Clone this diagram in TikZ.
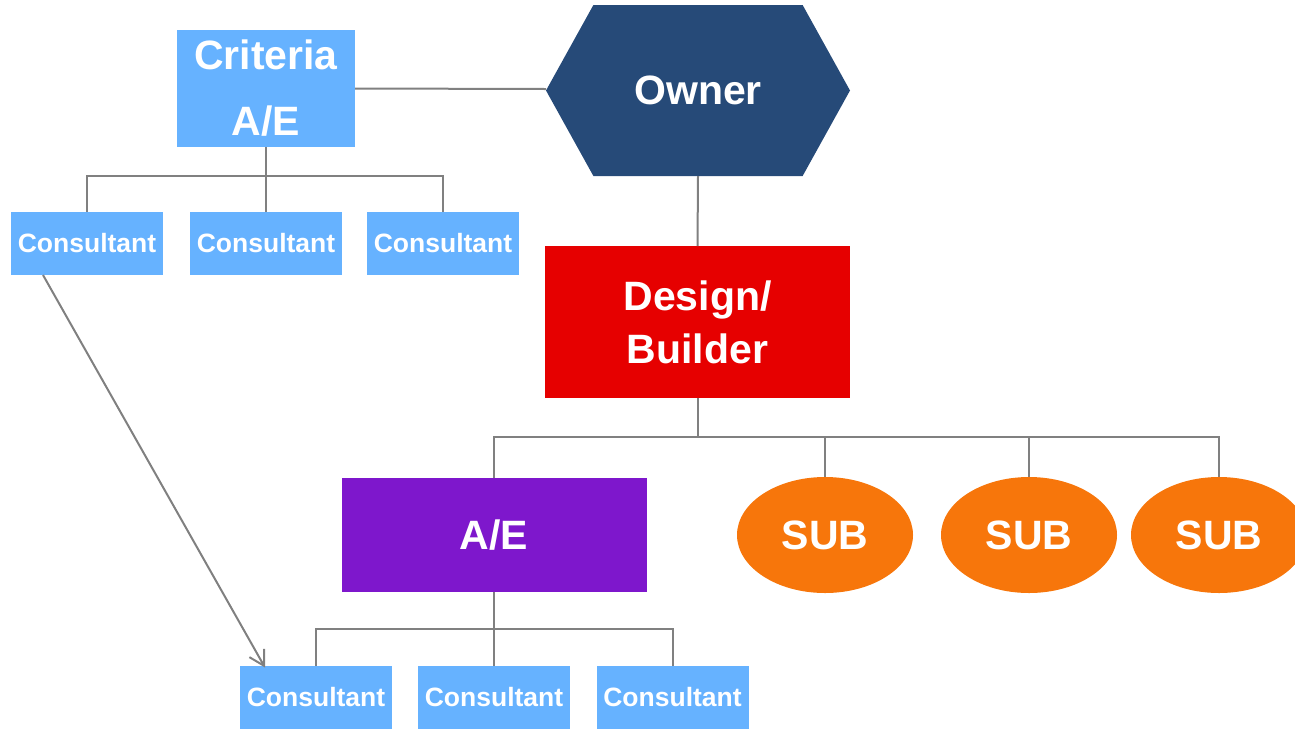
\documentclass[tikz,border=0pt]{standalone}
\usepackage{fontspec}
\setmainfont{Liberation Sans}
\usetikzlibrary{shapes.geometric,shapes.symbols,arrows.meta}
\definecolor{lightblue}{HTML}{66B2FF}
\definecolor{ownerblue}{HTML}{264A78}
\definecolor{dbred}{HTML}{E60000}
\definecolor{aepurple}{HTML}{7E17CC}
\definecolor{suborange}{HTML}{F7760B}
\definecolor{linegray}{HTML}{808080}

\tikzset{
  bigtext/.style={text=white,font=\bfseries\fontsize{41}{53}\selectfont,align=center,inner sep=0,outer sep=0},
  consbox/.style={rectangle,fill=lightblue,text=white,font=\bfseries\fontsize{26.5}{32}\selectfont,
    minimum width=152,minimum height=63,inner sep=0,outer sep=0},
  subnode/.style={bigtext,ellipse,fill=suborange,minimum width=176,minimum height=116},
  link/.style={draw=linegray,line width=2pt}
}

\begin{document}
\begin{tikzpicture}[x=1pt,y=-1pt]
      \useasboundingbox (0,0) rectangle (1295,729);
      \node[bigtext,rectangle,fill=lightblue,minimum width=178,minimum height=117,
        font=\bfseries\fontsize{41}{66}\selectfont](crit) at (266,88.5){Criteria\\A/E};
      \node[bigtext,signal,signal to=east and west,signal pointer angle=122,fill=ownerblue,
        minimum width=304,minimum height=171](owner) at (698,90.5){Owner};
      \node[consbox](c1) at (87,243.5){Consultant};
      \node[consbox](c2) at (266,243.5){Consultant};
      \node[consbox](c3) at (443,243.5){Consultant};
      \node[bigtext,rectangle,fill=dbred,minimum width=305,minimum height=152](db) at (697.5,322){Design/\\Builder};
      \node[bigtext,rectangle,fill=aepurple,minimum width=305,minimum height=114](ae) at (494,535){A/E};
      \node[subnode](sub1) at (825,535){SUB};
      \node[subnode](sub2) at (1029,535){SUB};
      \node[subnode](sub3) at (1219,535){SUB};
      \node[consbox](b1) at (316,697){Consultant};
      \node[consbox](b2) at (494,697){Consultant};
      \node[consbox](b3) at (672.5,697){Consultant};

      \draw[link] (crit.east) -- ([yshift=1.5]owner.west);
      \draw[link] (crit.south) -- ++(0,29) -| (c1.north);
      \draw[link] (crit.south) -- ++(0,29) -| (c3.north);
      \draw[link] (crit.south) -- (c2.north);
      \draw[link] (owner.south) -- (db.north);
      \draw[link] (db.south) -- ++(0,39) -| (ae.north);
      \draw[link] (db.south) -- ++(0,39) -| (sub1.north);
      \draw[link] (db.south) -- ++(0,39) -| (sub2.north);
      \draw[link] (db.south) -- ++(0,39) -| (sub3.north);
      \draw[link] (ae.south) -- ++(0,37) -| (b1.north);
      \draw[link] (ae.south) -- ++(0,37) -| (b3.north);
      \draw[link] (ae.south) -- (b2.north);
      \draw[link,-{Straight Barb[angle=60:17pt]}] ([xshift=-44]c1.south) -- ([xshift=-51,yshift=-2]b1.north);
    \end{tikzpicture}
\end{document}
